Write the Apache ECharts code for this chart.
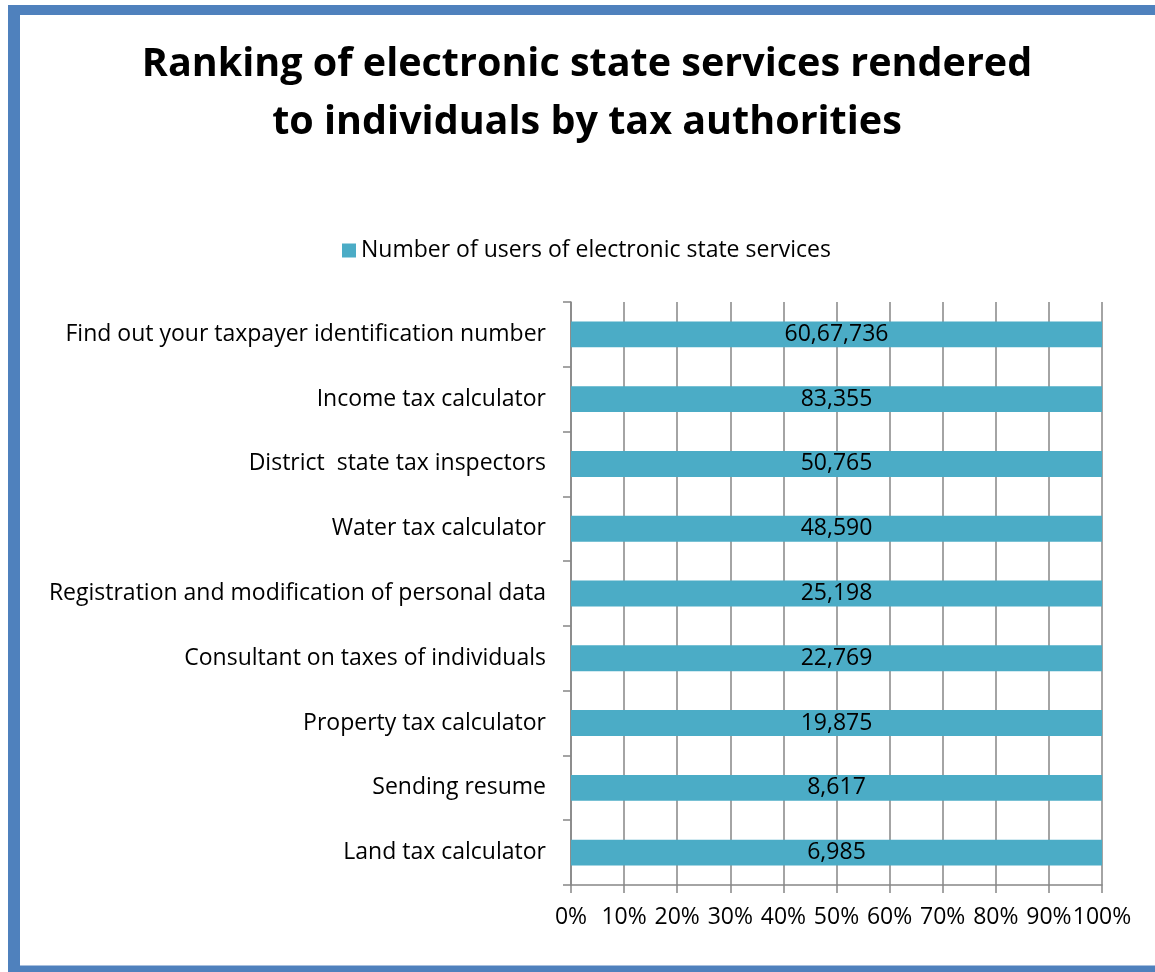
<!DOCTYPE html>
<html>
<head>
<meta charset="utf-8">
<script src="https://cdn.jsdelivr.net/npm/echarts@6/dist/echarts.min.js"></script>
<style>
html,body{margin:0;padding:0;background:#fff;}
#chart{width:1155px;height:972px;}
</style>
</head>
<body>
<div id="chart"></div>
<script>
var categories = [
  "Land tax calculator",
  "Sending resume",
  "Property tax calculator",
  "Consultant on taxes of individuals",
  "Registration and modification of personal data",
  "Water tax calculator",
  "District  state tax inspectors",
  "Income tax calculator",
  "Find out your taxpayer identification number"
];
var users = [6985, 8617, 19875, 22769, 25198, 48590, 50765, 83355, 6067736];
var seriesName = "Number of users of electronic state services";
var titleText = "Ranking of electronic state services rendered\nto individuals by tax authorities";

// 100% stacked: each value as share of its category total (single series)
var percent = users.map(function (v, i) { return { value: v / users[i] * 100, raw: v }; });

function indianFormat(n) {
  var s = String(n);
  if (s.length <= 3) return s;
  var last3 = s.slice(-3);
  var rest = s.slice(0, -3);
  rest = rest.replace(/\B(?=(\d{2})+(?!\d))/g, ",");
  return rest + "," + last3;
}

var FONT = "Open Sans";
var chart = echarts.init(document.getElementById('chart'));
chart.setOption({
  animation: false,
  title: {
    text: titleText,
    left: 582,
    textAlign: 'center',
    top: 31,
    textStyle: { fontFamily: FONT, fontWeight: 'bold', fontSize: 39.5, color: '#000', lineHeight: 58 }
  },
  legend: {
    top: 234,
    left: 337,
    itemWidth: 14,
    itemHeight: 14,
    itemGap: 7,
    textStyle: { fontFamily: FONT, fontSize: 23, color: '#000' },
    data: [{ name: seriesName, icon: 'rect' }]
  },
  grid: { left: 571, right: 53, top: 302, bottom: 87, containLabel: false },
  xAxis: {
    type: 'value',
    min: 0, max: 100, interval: 10,
    axisLine: { show: true, lineStyle: { color: '#868686', width: 1.5 } },
    axisTick: { show: true, length: 8, lineStyle: { color: '#868686', width: 1.5 } },
    axisLabel: { formatter: '{value}%', margin: 21, fontFamily: FONT, fontSize: 23, color: '#000' },
    splitLine: { show: true, lineStyle: { color: '#868686', width: 1.5 } }
  },
  yAxis: {
    type: 'category',
    data: categories,
    axisLine: { show: true, lineStyle: { color: '#868686', width: 1.5 } },
    axisTick: { show: true, length: 8, lineStyle: { color: '#868686', width: 1.5 } },
    axisLabel: { margin: 25, fontFamily: FONT, fontSize: 23, color: '#000' },
    splitLine: { show: false }
  },
  series: [{
    name: seriesName,
    type: 'bar',
    stack: 'total',
    barWidth: '40%',
    itemStyle: { color: '#4BACC6' },
    label: {
      show: true,
      position: 'inside',
      fontFamily: FONT, fontSize: 23, color: '#000',
      formatter: function (p) { return indianFormat(p.data.raw); }
    },
    data: percent
  }],
  graphic: [
    { type: 'rect', shape: { x: 8, y: 5, width: 12, height: 967 }, style: { fill: '#4F81BD' }, silent: true },
    { type: 'rect', shape: { x: 8, y: 5, width: 1147, height: 10 }, style: { fill: '#4F81BD' }, silent: true },
    { type: 'rect', shape: { x: 8, y: 966, width: 1147, height: 6 }, style: { fill: '#4F81BD' }, silent: true },
    { type: 'rect', shape: { x: 20, y: 965, width: 1135, height: 1 }, style: { fill: '#A7BFDE' }, silent: true }
  ]
});
</script>
</body>
</html>
